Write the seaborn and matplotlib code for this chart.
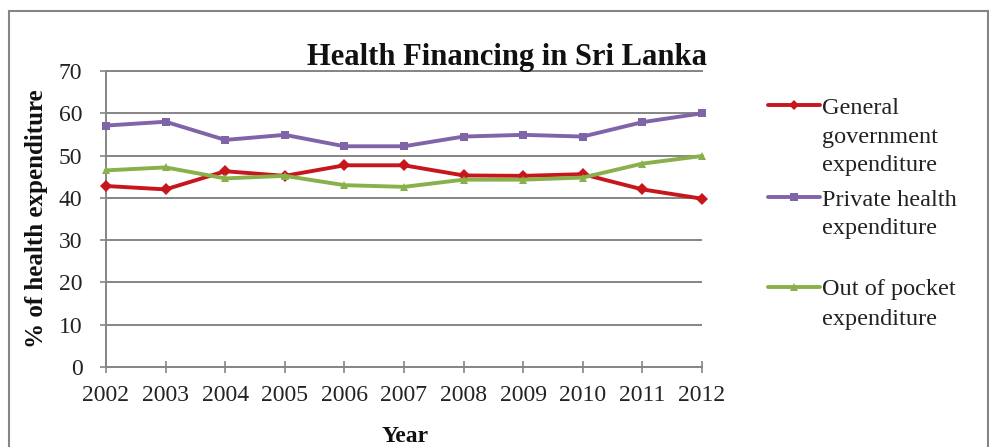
import numpy as np
import pandas as pd
import seaborn as sns
import matplotlib.pyplot as plt
from matplotlib.lines import Line2D
from matplotlib.patches import Rectangle

# ---------------- data ----------------
years = [2002, 2003, 2004, 2005, 2006, 2007, 2008, 2009, 2010, 2011, 2012]
general_gov = [42.8, 42.0, 46.3, 45.2, 47.7, 47.7, 45.3, 45.2, 45.6, 42.0, 39.8]
private_health = [57.1, 58.0, 53.7, 54.9, 52.2, 52.2, 54.5, 54.9, 54.5, 57.9, 60.0]
out_of_pocket = [46.5, 47.2, 44.6, 45.2, 43.0, 42.6, 44.3, 44.3, 44.8, 48.1, 49.9]
series_names = ["General government expenditure",
                "Private health expenditure",
                "Out of pocket expenditure"]
legend_labels = ["General\ngovernment\nexpenditure",
                 "Private health\nexpenditure",
                 "Out of pocket\nexpenditure"]
y_ticks = [0, 10, 20, 30, 40, 50, 60, 70]
title = "Health Financing in Sri Lanka"
x_title = "Year"
y_title = "% of health expenditure"

df = pd.DataFrame({
    "Year": years * 3,
    "Value": general_gov + private_health + out_of_pocket,
    "Series": [series_names[0]] * len(years) + [series_names[1]] * len(years)
              + [series_names[2]] * len(years),
})

colors = ["#C8161D", "#8064A8", "#88B04B"]
markers = ["D", "s", "^"]
msizes = [5, 6, 6]

sns.set_theme(style="white")
plt.rcParams["font.family"] = ["Liberation Serif", "DejaVu Serif"]

W, H = 989, 447
fig = plt.figure(figsize=(W / 100, H / 100), dpi=100)
L, R, T, B = 106, 702, 71, 367
ax = fig.add_axes([L / W, 1 - B / H, (R - L) / W, (B - T) / H])

sns.lineplot(data=df, x="Year", y="Value", hue="Series", style="Series",
             palette=colors, markers=markers, dashes=False, linewidth=2.8,
             markersize=6, markeredgewidth=0, legend=False, ax=ax)
for ln in ax.lines:
    ln.set_clip_on(False)
    ln.set_zorder(3)

ax.set_xlim(years[0], years[-1])
ax.set_ylim(0, 70)
ax.set_xticks(years)
ax.set_xticklabels([str(y) for y in years])
ax.set_yticks(y_ticks)
ax.yaxis.grid(True, color="#858585", linewidth=1.4)
ax.xaxis.grid(False)
ax.set_axisbelow(True)

for side in ["left", "bottom", "top"]:
    ax.spines[side].set_visible(True)
    ax.spines[side].set_color("#858585")
    ax.spines[side].set_linewidth(1.4)
ax.spines["right"].set_visible(False)

ax.tick_params(axis="x", direction="inout", length=8, width=1.2,
               color="#858585", pad=9, labelsize=17, labelcolor="#222222",
               bottom=True)
ax.tick_params(axis="y", direction="out", length=4, width=1.2,
               color="#858585", pad=13, labelsize=17, labelcolor="#222222",
               left=True)

ax.set_xlabel(x_title, fontsize=17, fontweight="bold", color="#111111")
ax.xaxis.set_label_coords((405 - L) / (R - L), (B - 437) / (B - T))
ax.xaxis.label.set_va("center")
ax.set_ylabel(y_title, fontsize=18, fontweight="bold", color="#111111")
ax.yaxis.set_label_coords((37 - L) / (R - L), 0.5)
ax.yaxis.label.set_va("center")

fig.text(507 / W, 1 - 65 / H, title, ha="center", va="baseline",
         fontsize=22, fontweight="bold", color="#111111")

# ---------------- legend (manual, Excel-like) ----------------
first_line_y = [108, 200, 290]
line_step = 29
for i, lab in enumerate(legend_labels):
    yc = first_line_y[i]
    hy = 1 - (yc - 3) / H
    fig.add_artist(Line2D([768 / W, 820 / W], [hy, hy], transform=fig.transFigure,
                          color=colors[i], linewidth=2.8))
    fig.add_artist(Line2D([794 / W], [hy], transform=fig.transFigure,
                          color=colors[i], marker=markers[i], markersize=msizes[i],
                          markeredgewidth=0, linestyle="none"))
    for j, part in enumerate(lab.split("\n")):
        fig.text(822 / W, 1 - (yc + j * line_step) / H, part, ha="left",
                 va="center", fontsize=17.5, color="#222222")

# outer frame
fig.add_artist(Rectangle((9 / W, -0.2), (988 - 9) / W, (1 - 11 / H) + 0.2,
                         transform=fig.transFigure, fill=False,
                         edgecolor="#858585", linewidth=1.5))

fig.savefig("out.png", dpi=100)
